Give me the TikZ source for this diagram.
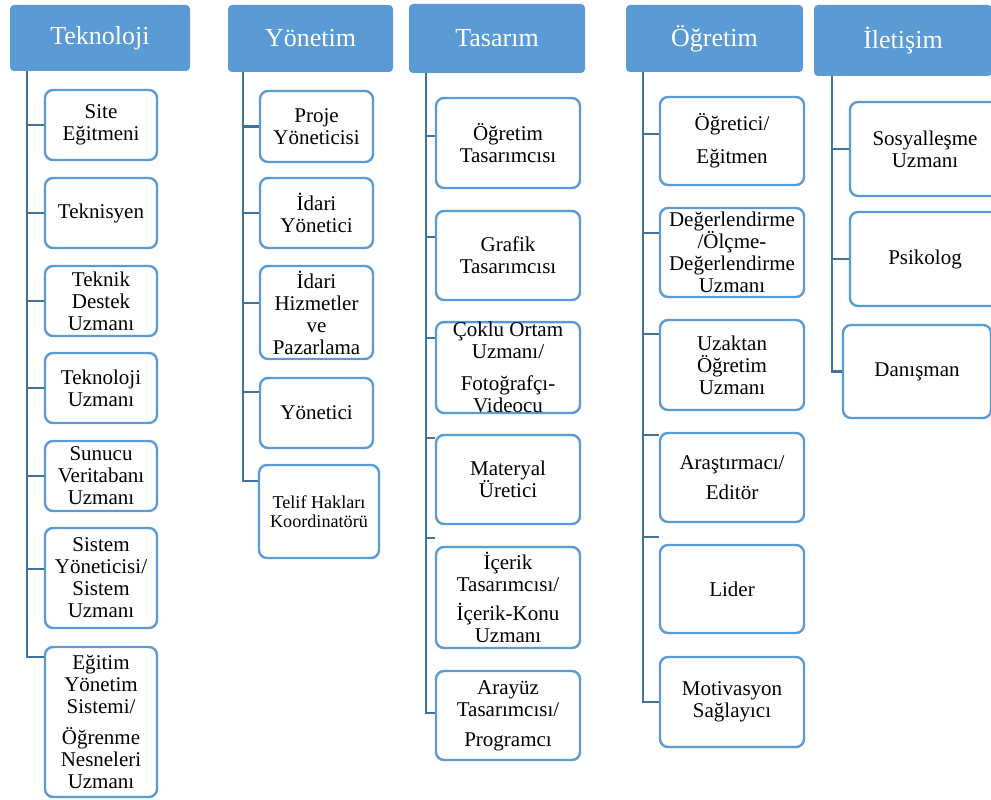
\documentclass[tikz,border=0pt]{standalone}
\usepackage{fontspec}
\setmainfont{Liberation Serif}
\usetikzlibrary{calc}
\definecolor{hdblue}{HTML}{5B9BD5}
\definecolor{lnblue}{HTML}{41719C}
\newcommand{\hdfont}{\fontsize{19.5}{22}\selectfont}
\newcommand{\rolefont}{\fontsize{15.75}{16.5}\selectfont}
\newcommand{\smallrole}{\fontsize{13.6}{14.2}\selectfont}

\begin{document}
\begin{tikzpicture}[
  x=0.75pt, y=-0.75pt,
  wide/.style={minimum width=#1*0.75pt},
  tall/.style={minimum height=#1*0.75pt},
  head/.style={fill=hdblue, rounded corners=3pt, text=white, font=\hdfont, inner sep=0pt},
  role/.style={draw=hdblue, line width=1.8pt, rounded corners=6pt, fill=white,
    align=center, inner sep=0pt, font=\rolefont},
  link/.style={draw=lnblue, line width=2.2pt}
]
  \useasboundingbox (0,0) rectangle (991,799);

  % column headers
  \node[head, wide=180, tall=66] (tekno) at (100,38) {Teknoloji};
  \node[head, wide=165, tall=67] (yonet) at (310.5,38.5) {Yönetim};
  \node[head, wide=176, tall=69] (tasar) at (497,38.5) {Tasarım};
  \node[head, wide=177, tall=67] (ogret) at (714.5,38.5) {Öğretim};
  \node[head, wide=178, tall=71] (ilet) at (903,40.5) {İletişim};

  \coordinate (tkbar) at (27,0);
  \coordinate (ynbar) at (243,0);
  \coordinate (tsbar) at (426,0);
  \coordinate (ogbar) at (643,0);
  \coordinate (ilbar) at (832,0);

  % Teknoloji
  \node[role, wide=112, tall=70] (tk1) at (101,125) {Site\\Eğitmeni};
  \node[role, wide=112, tall=70] (tk2) at (101,213) {Teknisyen};
  \node[role, wide=112, tall=70] (tk3) at (101,301) {Teknik\\Destek\\Uzmanı};
  \node[role, wide=112, tall=70] (tk4) at (101,388) {Teknoloji\\Uzmanı};
  \node[role, wide=112, tall=70] (tk5) at (101,476) {Sunucu\\Veritabanı\\Uzmanı};
  \node[role, wide=112, tall=100] (tk6) at (101,578) {Sistem\\Yöneticisi/\\Sistem\\Uzmanı};
  \node[role, wide=112, tall=150] (tk7) at (101,722)
    {Eğitim\\Yönetim\\Sistemi/\\[7pt]Öğrenme\\Nesneleri\\Uzmanı};

  % Yönetim
  \node[role, wide=113, tall=71] (yn1) at (316.5,126.5) {Proje\\Yöneticisi};
  \node[role, wide=113, tall=70] (yn2) at (316.5,213) {İdari\\Yönetici};
  \node[role, wide=113, tall=93] (yn3) at (316.5,312.5) {İdari\\Hizmetler\\ve\\Pazarlama};
  \node[role, wide=113, tall=70] (yn4) at (316.5,413) {Yönetici};
  \node[role, wide=120, tall=93, font=\smallrole] (yn5) at (319,511.5)
    {Telif Hakları\\Koordinatörü};

  % Tasarım
  \node[role, wide=144, tall=90] (ts1) at (508,143) {Öğretim\\Tasarımcısı};
  \node[role, wide=144, tall=89] (ts2) at (508,255.5) {Grafik\\Tasarımcısı};
  \node[role, wide=144, tall=89] (ts3) at (508,367.5)
    {Çoklu Ortam\\Uzmanı/\\[7.5pt]Fotoğrafçı-\\Videocu};
  \node[role, wide=144, tall=89] (ts4) at (508,479.5) {Materyal\\Üretici};
  \node[role, wide=144, tall=101] (ts5) at (508,597.5)
    {İçerik\\Tasarımcısı/\\[5pt]İçerik-Konu\\Uzmanı};
  \node[role, wide=144, tall=89] (ts6) at (508,715.5)
    {Arayüz\\Tasarımcısı/\\[6pt]Programcı};

  % Öğretim
  \node[role, wide=144, tall=88] (og1) at (732,141) {Öğretici/\\[8pt]Eğitmen};
  \node[role, wide=144, tall=89] (og2) at (732,252.5)
    {Değerlendirme\\/Ölçme-\\Değerlendirme\\Uzmanı};
  \node[role, wide=144, tall=90] (og3) at (732,365) {Uzaktan\\Öğretim\\Uzmanı};
  \node[role, wide=144, tall=89] (og4) at (732,477.5) {Araştırmacı/\\[6pt]Editör};
  \node[role, wide=144, tall=88] (og5) at (732,589) {Lider};
  \node[role, wide=144, tall=90] (og6) at (732,702) {Motivasyon\\Sağlayıcı};

  % İletişim
  \node[role, wide=150, tall=94] (il1) at (925,149) {Sosyalleşme\\Uzmanı};
  \node[role, wide=150, tall=94] (il2) at (925,259) {Psikolog};
  \node[role, wide=148, tall=93] (il3) at (917,371.5) {Danışman};

  % connectors
  \draw[link] (tekno.south -| tkbar) |- (tk1);
  \draw[link] (tekno.south -| tkbar) |- (tk2);
  \draw[link] (tekno.south -| tkbar) |- (tk3);
  \draw[link] (tekno.south -| tkbar) |- (tk4);
  \draw[link] (tekno.south -| tkbar) |- (tk5);
  \draw[link] (tekno.south -| tkbar) |- ($(tk6.west)+(0,-9)$);
  \draw[link] (tekno.south -| tkbar) |- ($(tk7.west)+(0,-65)$);

  \draw[link] (yonet.south -| ynbar) |- (yn1);
  \draw[link] (yonet.south -| ynbar) |- (yn2);
  \draw[link] (yonet.south -| ynbar) |- ($(yn3.west)+(0,-9.5)$);
  \draw[link] (yonet.south -| ynbar) |- ($(yn4.west)+(0,-21)$);
  \draw[link] (yonet.south -| ynbar) |- ($(yn5.west)+(0,-30.5)$);

  \draw[link] (tasar.south -| tsbar) |- ($(ts1.west)+(0,-7)$);
  \draw[link] (tasar.south -| tsbar) |- ($(ts2.west)+(0,-18.5)$);
  \draw[link] (tasar.south -| tsbar) |- ($(ts3.west)+(0,-29.5)$);
  \draw[link] (tasar.south -| tsbar) |- ($(ts4.west)+(0,-41.5)$);
  \draw[link] (tasar.south -| tsbar) |- ($(ts5.west)+(0,-59.5)$);
  \draw[link] (tasar.south -| tsbar) |- ($(ts6.west)+(0,-2.5)$);

  \draw[link] (ogret.south -| ogbar) |- ($(og1.west)+(0,-7)$);
  \draw[link] (ogret.south -| ogbar) |- ($(og2.west)+(0,-19.5)$);
  \draw[link] (ogret.south -| ogbar) |- ($(og3.west)+(0,-31)$);
  \draw[link] (ogret.south -| ogbar) |- ($(og4.west)+(0,-42.5)$);
  \draw[link] (ogret.south -| ogbar) |- ($(og5.west)+(0,-52)$);
  \draw[link] (ogret.south -| ogbar) |- (og6);

  \draw[link] (ilet.south -| ilbar) |- (il1);
  \draw[link] (ilet.south -| ilbar) |- (il2);
  \draw[link] (ilet.south -| ilbar) |- (il3);

\end{tikzpicture}
\end{document}
